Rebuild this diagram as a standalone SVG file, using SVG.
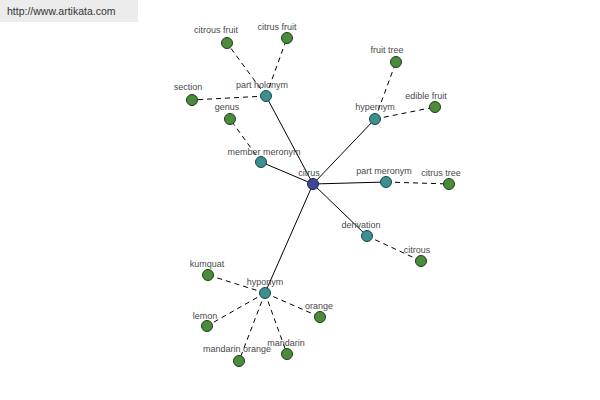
<svg xmlns="http://www.w3.org/2000/svg" width="600" height="400" viewBox="0 0 600 400">
<style>
.lbl{font-family:"Liberation Sans",Arial,sans-serif;font-size:9px;fill:#4a4a4a;text-anchor:middle}
.s{stroke:#000;stroke-width:1;fill:none}
.d{stroke:#000;stroke-width:1;fill:none;stroke-dasharray:5,4}
.leaf{fill:#4b8b3b;stroke:#1f3d18;stroke-width:1}
.rel{fill:#3c9090;stroke:#1c4646;stroke-width:1}
.root{fill:#3f469a;stroke:#1c2050;stroke-width:1}
</style>
<rect x="0" y="0" width="600" height="400" fill="#fff"/>
<rect x="0" y="0" width="138" height="22" fill="#ececec"/>
<text x="7" y="15" font-family="Liberation Sans,Arial,sans-serif" font-size="10.5" fill="#333">http://www.artikata.com</text>
<g id="connectors">
<line class="s" x1="313" y1="184" x2="266" y2="96"/>
<line class="s" x1="313" y1="184" x2="261" y2="162"/>
<line class="s" x1="313" y1="184" x2="375" y2="119"/>
<line class="s" x1="313" y1="184" x2="386" y2="182"/>
<line class="s" x1="313" y1="184" x2="367" y2="236"/>
<line class="s" x1="313" y1="184" x2="265" y2="293"/>
<line class="d" x1="266" y1="96" x2="227" y2="43"/>
<line class="d" x1="266" y1="96" x2="287" y2="38"/>
<line class="d" x1="266" y1="96" x2="192" y2="100"/>
<line class="d" x1="261" y1="162" x2="230" y2="119"/>
<line class="d" x1="375" y1="119" x2="396" y2="62"/>
<line class="d" x1="375" y1="119" x2="435" y2="107"/>
<line class="d" x1="386" y1="182" x2="449" y2="184"/>
<line class="d" x1="367" y1="236" x2="421" y2="261"/>
<line class="d" x1="265" y1="293" x2="208" y2="275"/>
<line class="d" x1="265" y1="293" x2="207" y2="326"/>
<line class="d" x1="265" y1="293" x2="239" y2="361"/>
<line class="d" x1="265" y1="293" x2="287" y2="354"/>
<line class="d" x1="265" y1="293" x2="320" y2="317"/>
</g>
<g id="citrus"><circle class="root" cx="313" cy="184" r="5.5"/><text class="lbl" x="309" y="176">citrus</text></g>
<g id="part-holonym"><circle class="rel" cx="266" cy="96" r="5.5"/><text class="lbl" x="262" y="88">part holonym</text></g>
<g id="member-meronym"><circle class="rel" cx="261" cy="162" r="5.5"/><text class="lbl" x="264" y="155">member meronym</text></g>
<g id="hypernym"><circle class="rel" cx="375" cy="119" r="5.5"/><text class="lbl" x="375" y="110">hypernym</text></g>
<g id="part-meronym"><circle class="rel" cx="386" cy="182" r="5.5"/><text class="lbl" x="384" y="174">part meronym</text></g>
<g id="derivation"><circle class="rel" cx="367" cy="236" r="5.5"/><text class="lbl" x="361" y="228">derivation</text></g>
<g id="hyponym"><circle class="rel" cx="265" cy="293" r="5.5"/><text class="lbl" x="265" y="285">hyponym</text></g>
<g id="citrous-fruit"><circle class="leaf" cx="227" cy="43" r="5.5"/><text class="lbl" x="216" y="33">citrous fruit</text></g>
<g id="citrus-fruit"><circle class="leaf" cx="287" cy="38" r="5.5"/><text class="lbl" x="277" y="30">citrus fruit</text></g>
<g id="section"><circle class="leaf" cx="192" cy="100" r="5.5"/><text class="lbl" x="188" y="90">section</text></g>
<g id="genus"><circle class="leaf" cx="230" cy="119" r="5.5"/><text class="lbl" x="227" y="110">genus</text></g>
<g id="fruit-tree"><circle class="leaf" cx="396" cy="62" r="5.5"/><text class="lbl" x="387" y="53">fruit tree</text></g>
<g id="edible-fruit"><circle class="leaf" cx="435" cy="107" r="5.5"/><text class="lbl" x="426" y="99">edible fruit</text></g>
<g id="citrus-tree"><circle class="leaf" cx="449" cy="184" r="5.5"/><text class="lbl" x="441" y="176">citrus tree</text></g>
<g id="citrous"><circle class="leaf" cx="421" cy="261" r="5.5"/><text class="lbl" x="417" y="253">citrous</text></g>
<g id="kumquat"><circle class="leaf" cx="208" cy="275" r="5.5"/><text class="lbl" x="207" y="267">kumquat</text></g>
<g id="lemon"><circle class="leaf" cx="207" cy="326" r="5.5"/><text class="lbl" x="205" y="319">lemon</text></g>
<g id="mandarin-orange"><circle class="leaf" cx="239" cy="361" r="5.5"/><text class="lbl" x="237" y="352">mandarin orange</text></g>
<g id="mandarin"><circle class="leaf" cx="287" cy="354" r="5.5"/><text class="lbl" x="286" y="346">mandarin</text></g>
<g id="orange"><circle class="leaf" cx="320" cy="317" r="5.5"/><text class="lbl" x="319" y="309">orange</text></g>
</svg>
